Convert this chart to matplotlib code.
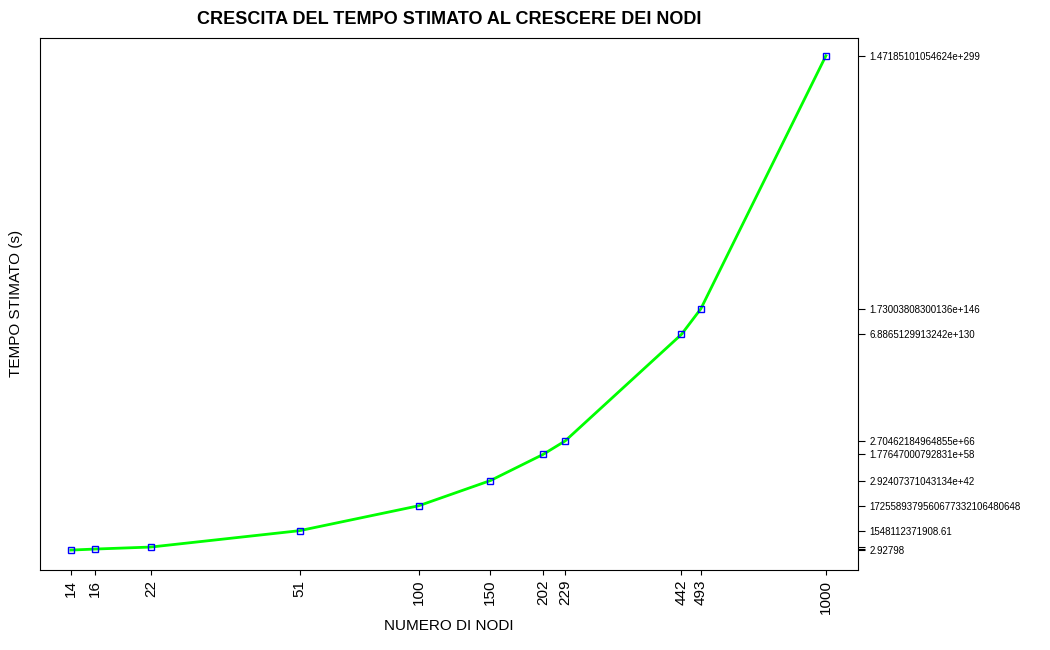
import numpy as np
import matplotlib.pyplot as plt

plt.rcParams['font.family'] = ['Liberation Sans', 'DejaVu Sans']

nodi = [14, 16, 22, 51, 100, 150, 202, 229, 442, 493, 1000]
tempo = [2.92798, 12.0, 200.0, 1548112371908.61, 1.7255893795606773e27,
         2.92407371043134e42, 1.77647000792831e58, 2.70462184964855e66,
         6.8865129913242e130, 1.73003808300136e146, 1.47185101054624e299]
etichette = ["2.92798", "", "", "1548112371908.61", "1725589379560677332106480648",
             "2.92407371043134e+42", "1.77647000792831e+58", "2.70462184964855e+66",
             "6.8865129913242e+130", "1.73003808300136e+146", "1.47185101054624e+299"]

logt = np.log10(tempo)

fig = plt.figure(figsize=(10.5, 6.5), dpi=100)
ax = fig.add_axes([0.038, 0.123, 0.779, 0.819])
ax.plot(nodi, logt, color="#00ff00", lw=2, zorder=2)
ax.plot(nodi, logt, "s", mfc="none", mec="blue", ms=5, zorder=3)

ax.set_xscale("log")
ax.set_xlim(11.75, 1198)
ax.set_ylim(-11.6, 310.1)
ax.set_xticks(nodi)
ax.set_xticklabels([str(n) for n in nodi], rotation=90, fontsize=11)
ax.minorticks_off()

ax.yaxis.tick_right()
ax.set_yticks(logt)
ax.set_yticklabels(etichette, fontsize=7)
ax.tick_params(axis="y", length=5)

ax.set_title("CRESCITA DEL TEMPO STIMATO AL CRESCERE DEI NODI", fontsize=13, fontweight="bold", pad=10)
ax.set_xlabel("NUMERO DI NODI", fontsize=11)
ax.set_ylabel("TEMPO STIMATO (s)", fontsize=11, labelpad=12)

fig.savefig("out.png")
